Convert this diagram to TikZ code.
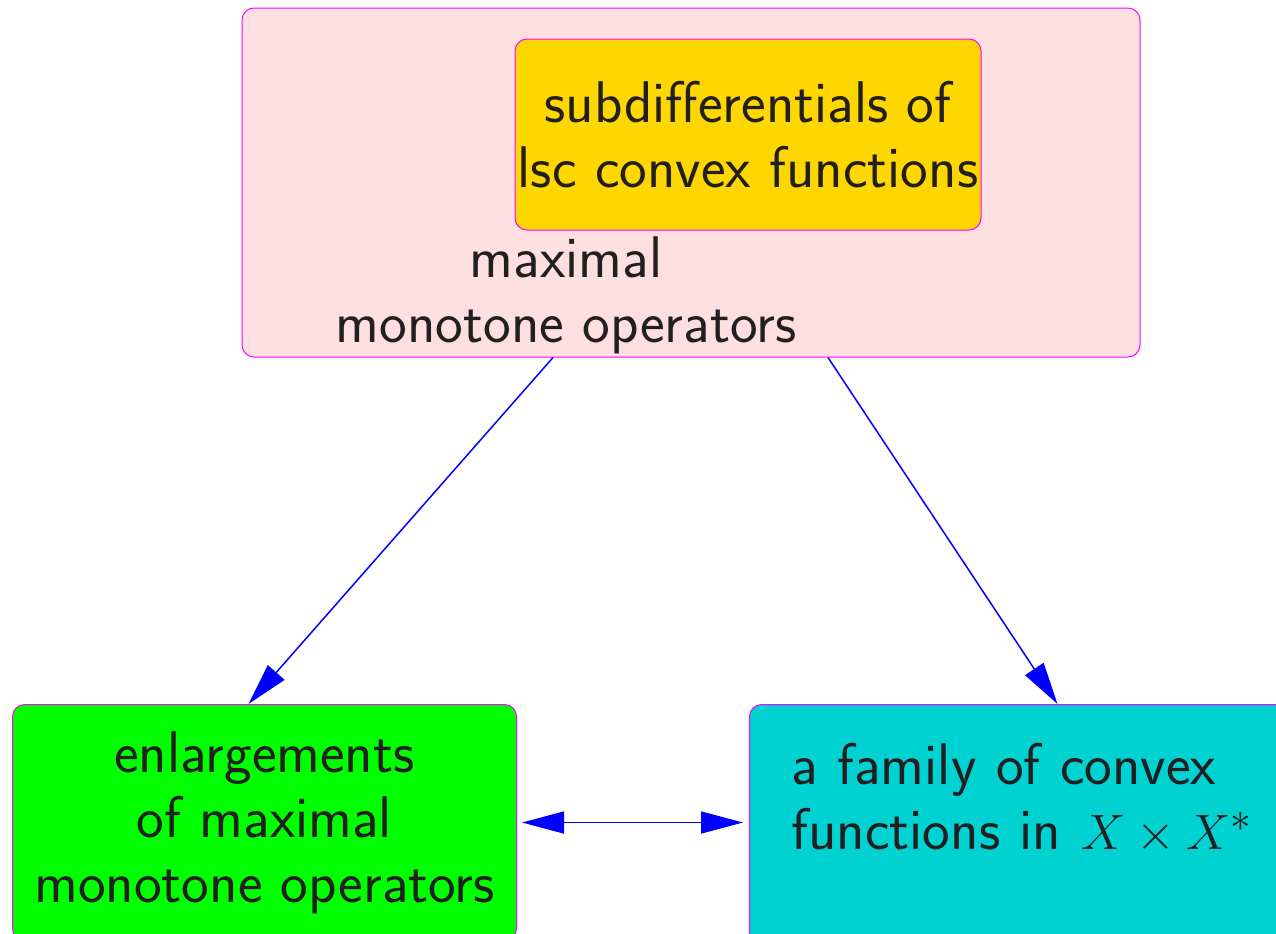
\documentclass[tikz,border=0pt]{standalone}
\definecolor{mmpink}{HTML}{FDDFE1}
\definecolor{mmgold}{HTML}{FFD700}
\definecolor{mmgreen}{HTML}{00FF00}
\definecolor{mmcyan}{HTML}{00D2D2}
\definecolor{mmedge}{HTML}{FF00FF}
\definecolor{mmtext}{HTML}{231F20}
\usepackage{amsmath}
\usepackage{tikz}
\usetikzlibrary{arrows.meta, positioning, calc}

\begin{document}
\begin{tikzpicture}[x=0.5pt, y=-0.5pt,
    box/.style={draw=mmedge, line width=0.5pt, rounded corners=6pt,
      rectangle, inner sep=0pt, align=center, text=mmtext},
    link/.style={draw=blue, line width=0.75pt,
      -{Triangle[length=21pt, width=11pt]}},
    bigtext/.style={font=\sffamily\fontsize{29.4}{32.5}\selectfont}]
    \useasboundingbox (0,0) rectangle (1276,933);
    \clip (0,0) rectangle (1276,933);
    % Top box: maximal monotone operators
    \node[box, fill=mmpink, minimum width=449pt, minimum height=174.5pt]
      (maxmon) at (691,182.5) {};
    \node[bigtext, text=mmtext, align=center] (maxmontext) at (566,295)
      {maximal\\monotone operators};
    % Inner box: subdifferentials
    \node[box, fill=mmgold, bigtext, minimum width=233pt, minimum height=95.5pt]
      (subdiff) at (748,134.5) {subdifferentials of\\lsc convex functions};
    % Lower left: enlargements
    \node[box, fill=mmgreen, bigtext, anchor=north west,
      minimum width=252pt, minimum height=118pt]
      (enlarg) at (12,704) {enlargements\\of maximal\\monotone operators};
    % Lower right: convex functions
    \node[box, fill=mmcyan, bigtext, anchor=north west, align=left,
      text width=238pt, inner xsep=21pt, minimum height=134pt]
      (family) at (749,704) {a family of convex\\functions in $X\times X^*$\\\strut};
    % Arrows
    \draw[link] ([xshift=-69pt]maxmon.south) -- ([xshift=-8pt]enlarg.north);
    \draw[link] ([xshift=68.5pt]maxmon.south) -- ([xshift=14pt]family.north);
    \draw[link, {Triangle[length=21pt, width=11pt]}-{Triangle[length=21pt, width=11pt]},
      shorten <=2.5pt, shorten >=3pt]
      (enlarg.east) -- (family.west |- enlarg.east);
\end{tikzpicture}
\end{document}
